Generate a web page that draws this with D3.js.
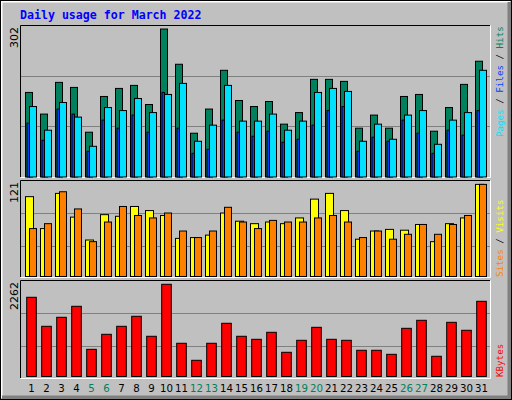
<!DOCTYPE html>
<html><head><meta charset="utf-8">
<script src="https://cdn.jsdelivr.net/npm/d3@7"></script>
<style>body{margin:0;background:#fff}</style></head>
<body><svg id="c" width="512" height="400"></svg>
<script>
const days = d3.range(1,32);
const weekend = [5,6,12,13,19,20,26,27];
const hits  = [168,125,188,178,89,160,176,182,144,294,224,87,135,212,152,140,150,105,128,194,194,190,97,123,97,160,164,91,138,184,230];
const files = [140,93,148,119,61,138,132,156,128,164,186,71,103,182,111,111,125,93,111,168,176,170,71,105,75,123,132,65,113,128,212];
const pages = [107,73,135,125,51,113,97,123,89,168,97,47,55,113,89,81,91,69,75,103,132,140,51,79,71,113,87,47,93,83,132];
const visits= [101,62,105,76,48,79,77,89,84,78,50,51,54,81,71,68,70,68,75,98,105,84,49,59,61,60,67,46,68,75,116];
const sites = [62,68,107,86,46,70,89,78,75,81,59,51,59,88,70,62,72,70,70,75,78,70,51,59,49,55,67,55,67,78,116];
const kbytes= [1874,1211,1417,1668,685,1028,1211,1440,983,2171,823,434,823,1280,983,914,1074,617,891,1188,914,891,663,663,571,1165,1348,526,1302,1120,1782];
const maxLabels = ["302","121","2262"];

const svg = d3.select("#c");
const C = {hits:"#00805C",files:"#00E0FF",pages:"#0040FF",visits:"#FFFF00",sites:"#FF8000",kb:"#FF0000"};
svg.append("rect").attr("x",0).attr("y",0).attr("width",512).attr("height",400).attr("fill","#C0C0C0");
svg.append("path").attr("d","M1.5,398V1.5H510").attr("stroke","#fff").attr("stroke-width",2).attr("fill","none");
svg.append("path").attr("d","M2,397.5H509.5V2").attr("stroke","#808080").attr("stroke-width",4).attr("fill","none");
svg.append("rect").attr("x",0.5).attr("y",0.5).attr("width",511).attr("height",399).attr("fill","none").attr("stroke","#000");

svg.append("text").attr("x",20).attr("y",19).text("Daily usage for March 2022")
 .attr("font-family","DejaVu Sans Mono").attr("font-weight","bold").attr("font-size","11.6px").attr("fill","#0000FF");

const x = d3.scaleLinear().domain([1,31]).range([31.5,481.5]);
const panels = [
 {top:25, bot:177, base:177, max:302, yr:[177,25]},
 {top:180, bot:277, base:276.5, max:121, yr:[279.3,180.3]},
 {top:280, bot:378, base:376.5, max:2262, yr:[379.3,280.3]}
];
panels.forEach((p,i)=>{
 p.y = d3.scaleLinear().domain([0,p.max]).range(p.yr);
 [1/3,2/3].forEach(f=>{
   svg.append("line").attr("x1",20).attr("x2",490).attr("y1",Math.round(p.y(p.max*f))+0.5).attr("y2",Math.round(p.y(p.max*f))+0.5).attr("stroke","#808080");
 });
 svg.append("path").attr("d",`M20.5,${p.bot}V${p.top+0.5}H490`).attr("stroke","#000").attr("fill","none");
 svg.append("path").attr("d",`M20.5,${p.bot+0.5}H490.5V${p.top+0.5}`).attr("stroke","#fff").attr("fill","none");
 svg.append("text").attr("transform",`translate(18,${p.top+2}) rotate(-90)`).attr("text-anchor","end")
   .attr("font-family","DejaVu Sans").attr("font-size","11px").attr("fill","#000").text(maxLabels[i]);
});
function bars(data,p,dx0,dx1,color){
 svg.append("g").selectAll("rect").data(data).join("rect")
  .attr("x",(d,i)=>x(days[i])+dx0).attr("width",dx1-dx0)
  .attr("y",d=>p.y(d)).attr("height",d=>p.base-p.y(d))
  .attr("fill",color).attr("stroke","#000").attr("stroke-width",1);
}
bars(hits,panels[0],-6,1,C.hits);
bars(pages,panels[0],-4.5,-2,C.pages);
bars(files,panels[0],-2,5,C.files);
bars(visits,panels[1],-6,2,C.visits);
bars(sites,panels[1],-2,5,C.sites);
bars(kbytes,panels[2],-4.8,4.8,C.kb);

svg.append("g").selectAll("text").data(days).join("text")
 .attr("x",d=>x(d)).attr("y",392).attr("text-anchor","middle")
 .attr("font-family","DejaVu Sans").attr("font-size","10px").attr("textLength",d=>d>9?13:6.5)
 .attr("lengthAdjust","spacingAndGlyphs")
 .attr("fill",d=>weekend.includes(d)?"#00805C":"#000").text(d=>d);

function sideLabel(yStart,parts){
 const t = svg.append("text").attr("transform",`translate(503,${yStart}) rotate(-90)`)
  .attr("font-family","DejaVu Sans Mono").attr("font-size","9.2px");
 parts.forEach(([s,c])=>t.append("tspan").attr("fill",c).text(s));
}
sideLabel(137,[["Pages",C.files],[" / ","#000"],["Files",C.pages],[" / ","#000"],["Hits",C.hits]]);
sideLabel(277,[["Sites",C.sites],[" / ","#000"],["Visits",C.visits]]);
sideLabel(377,[["KBytes",C.kb]]);
</script></body></html>
